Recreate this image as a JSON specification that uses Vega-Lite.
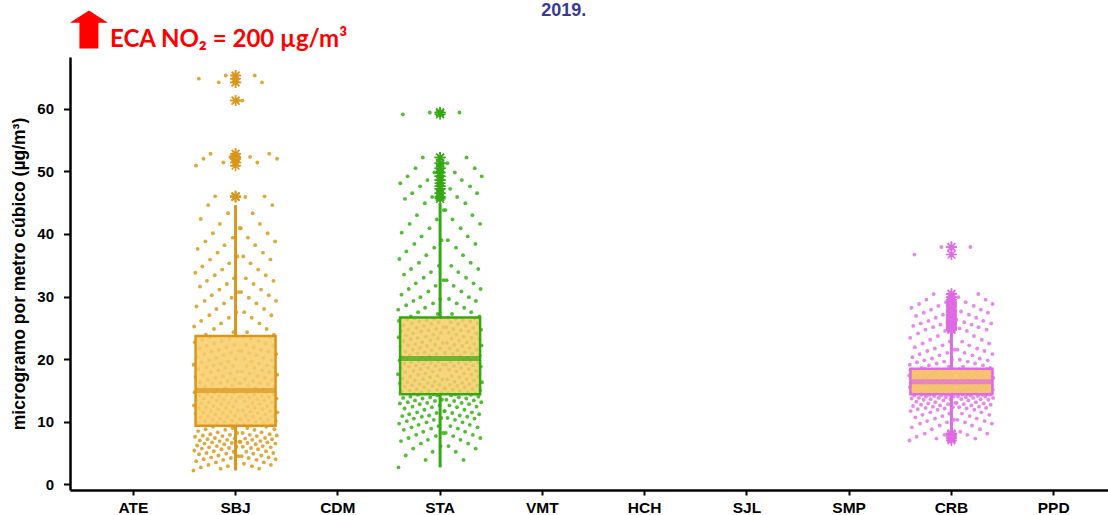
{
"$schema": "https://vega.github.io/schema/vega-lite/v6.json",
"width": 1038, "height": 433,
"autosize": {"type": "none"},
"padding": {"left": 70, "top": 57, "right": 0, "bottom": 25},
"background": "white",
"config": {"view": {"stroke": null}, "axis": {"grid": false}},
"data": {"values": [
{"d":1,"SBJ":2.2,"STA":17.6,"CRB":17.4},{"d":2,"SBJ":19.1,"STA":27.9,"CRB":7.0},{"d":3,"SBJ":12.6,"STA":2.7,"CRB":19.1},{"d":4,"SBJ":25.2,"STA":23.5,"CRB":15.5},{"d":5,"SBJ":5.4,"STA":26.1,"CRB":23.4},
{"d":6,"SBJ":14.7,"STA":9.7,"CRB":18.2},{"d":7,"SBJ":22.7,"STA":36.0,"CRB":11.7},{"d":8,"SBJ":7.6,"STA":19.8,"CRB":16.2},{"d":9,"SBJ":33.8,"STA":12.9,"CRB":17.0},{"d":10,"SBJ":17.2,"STA":16.1,"CRB":28.2},
{"d":11,"SBJ":11.3,"STA":48.1,"CRB":13.7},{"d":12,"SBJ":50.9,"STA":22.0,"CRB":9.1},{"d":13,"SBJ":3.7,"STA":18.5,"CRB":15.0},{"d":14,"SBJ":28.4,"STA":6.9,"CRB":20.3},{"d":15,"SBJ":13.5,"STA":24.5,"CRB":17.7},
{"d":16,"SBJ":20.4,"STA":30.3,"CRB":15.7},{"d":17,"SBJ":6.2,"STA":40.2,"CRB":12.5},{"d":18,"SBJ":15.3,"STA":14.8,"CRB":25.3},{"d":19,"SBJ":37.6,"STA":10.9,"CRB":16.5},{"d":20,"SBJ":9.9,"STA":20.3,"CRB":14.5},
{"d":21,"SBJ":8.5,"STA":16.9,"CRB":17.2},{"d":22,"SBJ":18.4,"STA":59.1,"CRB":14.2},{"d":23,"SBJ":12.1,"STA":13.8,"CRB":36.7},{"d":24,"SBJ":64.8,"STA":22.9,"CRB":15.3},{"d":25,"SBJ":4.8,"STA":25.4,"CRB":21.9},
{"d":26,"SBJ":14.2,"STA":8.7,"CRB":18.0},{"d":27,"SBJ":21.7,"STA":33.5,"CRB":10.7},{"d":28,"SBJ":7.0,"STA":19.3,"CRB":16.0},{"d":29,"SBJ":31.6,"STA":12.1,"CRB":16.8},{"d":30,"SBJ":16.3,"STA":15.6,"CRB":26.9},
{"d":31,"SBJ":10.7,"STA":45.6,"CRB":13.2},{"d":32,"SBJ":42.4,"STA":21.2,"CRB":7.6},{"d":33,"SBJ":2.7,"STA":17.9,"CRB":14.8},{"d":34,"SBJ":26.1,"STA":4.6,"CRB":19.5},{"d":35,"SBJ":12.9,"STA":23.8,"CRB":17.5},
{"d":36,"SBJ":19.5,"STA":28.6,"CRB":15.5},{"d":37,"SBJ":5.7,"STA":37.2,"CRB":12.0},{"d":38,"SBJ":23.1,"STA":20.0,"CRB":24.1},{"d":39,"SBJ":34.8,"STA":10.1,"CRB":18.3},{"d":40,"SBJ":14.9,"STA":26.3,"CRB":16.3},
{"d":41,"SBJ":7.8,"STA":16.3,"CRB":17.0},{"d":42,"SBJ":17.5,"STA":49.2,"CRB":13.8},{"d":43,"SBJ":11.5,"STA":13.1,"CRB":28.8},{"d":44,"SBJ":52.0,"STA":22.2,"CRB":15.1},{"d":45,"SBJ":4.0,"STA":24.7,"CRB":20.8},
{"d":46,"SBJ":13.7,"STA":7.4,"CRB":17.8},{"d":47,"SBJ":20.8,"STA":31.2,"CRB":9.7},{"d":48,"SBJ":6.5,"STA":18.8,"CRB":15.8},{"d":49,"SBJ":29.3,"STA":11.2,"CRB":16.6},{"d":50,"SBJ":15.6,"STA":15.0,"CRB":25.7},
{"d":51,"SBJ":10.1,"STA":41.6,"CRB":12.7},{"d":52,"SBJ":38.8,"STA":20.6,"CRB":14.3},{"d":53,"SBJ":8.8,"STA":17.2,"CRB":14.6},{"d":54,"SBJ":23.9,"STA":14.0,"CRB":18.6},{"d":55,"SBJ":12.3,"STA":23.2,"CRB":17.3},
{"d":56,"SBJ":18.7,"STA":26.8,"CRB":15.4},{"d":57,"SBJ":5.0,"STA":34.4,"CRB":11.1},{"d":58,"SBJ":22.1,"STA":19.5,"CRB":22.5},{"d":59,"SBJ":32.5,"STA":9.1,"CRB":18.1},{"d":60,"SBJ":14.4,"STA":25.7,"CRB":16.1},
{"d":61,"SBJ":7.2,"STA":15.8,"CRB":16.9},{"d":62,"SBJ":16.7,"STA":46.5,"CRB":13.5},{"d":63,"SBJ":10.9,"STA":12.4,"CRB":27.4},{"d":64,"SBJ":44.6,"STA":21.5,"CRB":14.9},{"d":65,"SBJ":3.1,"STA":24.1,"CRB":19.8},
{"d":66,"SBJ":13.1,"STA":5.7,"CRB":17.6},{"d":67,"SBJ":19.8,"STA":29.3,"CRB":8.1},{"d":68,"SBJ":5.9,"STA":18.1,"CRB":15.6},{"d":69,"SBJ":27.0,"STA":10.5,"CRB":18.4},{"d":70,"SBJ":23.5,"STA":14.5,"CRB":24.7},
{"d":71,"SBJ":9.5,"STA":38.4,"CRB":12.2},{"d":72,"SBJ":35.9,"STA":26.5,"CRB":14.0},{"d":73,"SBJ":8.0,"STA":16.6,"CRB":14.4},{"d":74,"SBJ":52.8,"STA":13.4,"CRB":29.5},{"d":75,"SBJ":11.7,"STA":22.4,"CRB":17.1},
{"d":76,"SBJ":17.9,"STA":50.5,"CRB":15.2},{"d":77,"SBJ":4.3,"STA":32.1,"CRB":10.1},{"d":78,"SBJ":21.2,"STA":19.0,"CRB":21.3},{"d":79,"SBJ":30.2,"STA":7.9,"CRB":17.9},{"d":80,"SBJ":13.9,"STA":25.0,"CRB":15.9},
{"d":81,"SBJ":6.7,"STA":15.2,"CRB":16.7},{"d":82,"SBJ":16.0,"STA":43.0,"CRB":12.9},{"d":83,"SBJ":10.3,"STA":11.5,"CRB":26.1},{"d":84,"SBJ":40.1,"STA":20.9,"CRB":14.7},{"d":85,"SBJ":9.2,"STA":23.4,"CRB":19.0},
{"d":86,"SBJ":12.5,"STA":14.3,"CRB":17.4},{"d":87,"SBJ":19.0,"STA":27.5,"CRB":14.3},{"d":88,"SBJ":5.3,"STA":17.5,"CRB":15.4},{"d":89,"SBJ":24.8,"STA":9.5,"CRB":18.2},{"d":90,"SBJ":22.5,"STA":19.7,"CRB":23.1},
{"d":91,"SBJ":14.6,"STA":35.4,"CRB":11.5},{"d":92,"SBJ":33.4,"STA":26.0,"CRB":13.6},{"d":93,"SBJ":7.4,"STA":16.0,"CRB":16.2},{"d":94,"SBJ":46.0,"STA":12.8,"CRB":27.9},{"d":95,"SBJ":11.2,"STA":21.8,"CRB":16.9},
{"d":96,"SBJ":17.0,"STA":47.6,"CRB":15.0},{"d":97,"SBJ":3.5,"STA":29.9,"CRB":8.8},{"d":98,"SBJ":20.2,"STA":18.4,"CRB":20.1},{"d":99,"SBJ":28.0,"STA":6.5,"CRB":17.7},{"d":100,"SBJ":13.4,"STA":24.4,"CRB":15.7},
{"d":101,"SBJ":6.1,"STA":14.7,"CRB":16.5},{"d":102,"SBJ":15.1,"STA":39.6,"CRB":12.4},{"d":103,"SBJ":9.8,"STA":10.8,"CRB":25.1},{"d":104,"SBJ":37.0,"STA":20.2,"CRB":14.5},{"d":105,"SBJ":8.3,"STA":22.7,"CRB":30.4},
{"d":106,"SBJ":12.0,"STA":13.7,"CRB":17.2},{"d":107,"SBJ":18.2,"STA":52.2,"CRB":14.1},{"d":108,"SBJ":4.6,"STA":16.8,"CRB":15.2},{"d":109,"SBJ":64.2,"STA":8.4,"CRB":18.0},{"d":110,"SBJ":21.5,"STA":19.2,"CRB":21.7},
{"d":111,"SBJ":14.1,"STA":33.0,"CRB":10.5},{"d":112,"SBJ":31.1,"STA":25.3,"CRB":13.1},{"d":113,"SBJ":6.9,"STA":15.5,"CRB":16.0},{"d":114,"SBJ":41.6,"STA":11.9,"CRB":26.6},{"d":115,"SBJ":10.5,"STA":21.1,"CRB":16.7},
{"d":116,"SBJ":16.2,"STA":44.9,"CRB":14.8},{"d":117,"SBJ":2.5,"STA":28.2,"CRB":7.3},{"d":118,"SBJ":19.3,"STA":17.7,"CRB":19.3},{"d":119,"SBJ":25.7,"STA":3.9,"CRB":17.5},{"d":120,"SBJ":12.8,"STA":23.6,"CRB":15.5},
{"d":121,"SBJ":5.6,"STA":19.9,"CRB":18.2},{"d":122,"SBJ":22.9,"STA":36.6,"CRB":11.9},{"d":123,"SBJ":14.8,"STA":9.9,"CRB":23.7},{"d":124,"SBJ":34.3,"STA":26.2,"CRB":16.3},{"d":125,"SBJ":7.7,"STA":22.1,"CRB":28.5},
{"d":126,"SBJ":11.4,"STA":13.0,"CRB":17.0},{"d":127,"SBJ":17.3,"STA":48.6,"CRB":13.8},{"d":128,"SBJ":3.9,"STA":16.2,"CRB":15.0},{"d":129,"SBJ":51.4,"STA":7.1,"CRB":17.8},{"d":130,"SBJ":20.6,"STA":18.6,"CRB":20.6},
{"d":131,"SBJ":13.6,"STA":30.8,"CRB":9.4},{"d":132,"SBJ":28.9,"STA":24.6,"CRB":12.6},{"d":133,"SBJ":6.4,"STA":14.9,"CRB":15.8},{"d":134,"SBJ":38.2,"STA":11.0,"CRB":25.5},{"d":135,"SBJ":10.0,"STA":20.5,"CRB":16.5},
{"d":136,"SBJ":15.4,"STA":40.9,"CRB":14.6},{"d":137,"SBJ":8.7,"STA":59.4,"CRB":14.2},{"d":138,"SBJ":18.6,"STA":17.1,"CRB":37.9},{"d":139,"SBJ":65.3,"STA":13.9,"CRB":17.3},{"d":140,"SBJ":12.2,"STA":23.0,"CRB":15.3},
{"d":141,"SBJ":4.9,"STA":19.4,"CRB":18.0},{"d":142,"SBJ":21.9,"STA":33.9,"CRB":10.9},{"d":143,"SBJ":14.3,"STA":8.9,"CRB":22.2},{"d":144,"SBJ":32.0,"STA":25.6,"CRB":16.1},{"d":145,"SBJ":7.1,"STA":21.4,"CRB":27.1},
{"d":146,"SBJ":10.8,"STA":12.3,"CRB":16.8},{"d":147,"SBJ":16.5,"STA":45.9,"CRB":13.4},{"d":148,"SBJ":2.9,"STA":15.7,"CRB":14.9},{"d":149,"SBJ":43.3,"STA":5.2,"CRB":17.6},{"d":150,"SBJ":19.6,"STA":18.0,"CRB":19.6},
{"d":151,"SBJ":13.0,"STA":28.9,"CRB":7.9},{"d":152,"SBJ":26.6,"STA":23.9,"CRB":12.1},{"d":153,"SBJ":5.8,"STA":14.4,"CRB":15.6},{"d":154,"SBJ":35.3,"STA":10.3,"CRB":24.5},{"d":155,"SBJ":9.4,"STA":26.4,"CRB":18.3},
{"d":156,"SBJ":23.3,"STA":37.8,"CRB":14.4},{"d":157,"SBJ":7.9,"STA":49.8,"CRB":13.9},{"d":158,"SBJ":17.7,"STA":16.4,"CRB":29.1},{"d":159,"SBJ":52.3,"STA":13.3,"CRB":17.1},{"d":160,"SBJ":11.6,"STA":22.3,"CRB":15.1},
{"d":161,"SBJ":4.2,"STA":18.9,"CRB":17.8},{"d":162,"SBJ":21.0,"STA":31.7,"CRB":9.9},{"d":163,"SBJ":13.8,"STA":7.7,"CRB":21.0},{"d":164,"SBJ":29.8,"STA":24.8,"CRB":15.9},{"d":165,"SBJ":6.6,"STA":20.8,"CRB":25.9},
{"d":166,"SBJ":10.2,"STA":11.4,"CRB":16.6},{"d":167,"SBJ":15.8,"STA":42.3,"CRB":12.8},{"d":168,"SBJ":9.0,"STA":15.1,"CRB":14.7},{"d":169,"SBJ":39.4,"STA":14.2,"CRB":17.4},{"d":170,"SBJ":18.9,"STA":17.3,"CRB":18.8},
{"d":171,"SBJ":12.4,"STA":27.2,"CRB":14.3},{"d":172,"SBJ":24.3,"STA":23.3,"CRB":11.3},{"d":173,"SBJ":5.2,"STA":19.6,"CRB":15.4},{"d":174,"SBJ":32.9,"STA":9.3,"CRB":22.8},{"d":175,"SBJ":14.5,"STA":25.9,"CRB":18.1},
{"d":176,"SBJ":22.3,"STA":34.9,"CRB":16.1},{"d":177,"SBJ":7.3,"STA":47.2,"CRB":13.6},{"d":178,"SBJ":16.8,"STA":15.9,"CRB":27.6},{"d":179,"SBJ":45.9,"STA":12.6,"CRB":16.9},{"d":180,"SBJ":11.0,"STA":21.7,"CRB":14.9},
{"d":181,"SBJ":3.3,"STA":18.3,"CRB":17.6},{"d":182,"SBJ":20.0,"STA":29.6,"CRB":8.4},{"d":183,"SBJ":13.3,"STA":6.1,"CRB":19.9},{"d":184,"SBJ":27.5,"STA":24.2,"CRB":15.7},{"d":185,"SBJ":6.0,"STA":26.6,"CRB":24.9},
{"d":186,"SBJ":9.6,"STA":10.6,"CRB":18.4},{"d":187,"SBJ":23.6,"STA":39.0,"CRB":12.3},{"d":188,"SBJ":8.2,"STA":14.6,"CRB":14.5},{"d":189,"SBJ":36.4,"STA":13.5,"CRB":17.2},{"d":190,"SBJ":18.0,"STA":16.7,"CRB":29.9},
{"d":191,"SBJ":11.8,"STA":51.3,"CRB":14.0},{"d":192,"SBJ":61.3,"STA":22.6,"CRB":10.3},{"d":193,"SBJ":4.5,"STA":19.1,"CRB":15.2},{"d":194,"SBJ":30.7,"STA":8.2,"CRB":21.5},{"d":195,"SBJ":14.0,"STA":25.1,"CRB":17.9},
{"d":196,"SBJ":21.3,"STA":32.6,"CRB":15.9},{"d":197,"SBJ":6.8,"STA":43.8,"CRB":13.0},{"d":198,"SBJ":16.1,"STA":15.3,"CRB":26.3},{"d":199,"SBJ":40.9,"STA":11.7,"CRB":16.7},{"d":200,"SBJ":10.4,"STA":21.0,"CRB":14.7},
{"d":201,"SBJ":16.1,"STA":11.7,"CRB":14.7},{"d":202,"SBJ":6.8,"STA":21.0,"CRB":26.3},{"d":203,"SBJ":40.9,"STA":15.3,"CRB":13.0},{"d":204,"SBJ":10.4,"STA":43.8,"CRB":16.7},{"d":205,"SBJ":30.7,"STA":8.2,"CRB":17.9},
{"d":206,"SBJ":21.3,"STA":19.1,"CRB":10.3},{"d":207,"SBJ":4.5,"STA":25.1,"CRB":21.5},{"d":208,"SBJ":14.0,"STA":13.5,"CRB":15.9},{"d":209,"SBJ":18.0,"STA":32.6,"CRB":14.0},{"d":210,"SBJ":61.3,"STA":22.6,"CRB":15.2},
{"d":211,"SBJ":8.2,"STA":16.7,"CRB":29.9},{"d":212,"SBJ":6.0,"STA":51.3,"CRB":17.2},{"d":213,"SBJ":11.8,"STA":10.6,"CRB":14.5},{"d":214,"SBJ":36.4,"STA":39.0,"CRB":12.3},{"d":215,"SBJ":23.6,"STA":14.6,"CRB":18.4},
{"d":216,"SBJ":9.6,"STA":26.6,"CRB":24.9},{"d":217,"SBJ":3.3,"STA":6.1,"CRB":19.9},{"d":218,"SBJ":27.5,"STA":24.2,"CRB":15.7},{"d":219,"SBJ":20.0,"STA":29.6,"CRB":8.4},{"d":220,"SBJ":13.3,"STA":18.3,"CRB":17.6},
{"d":221,"SBJ":16.8,"STA":12.6,"CRB":14.9},{"d":222,"SBJ":7.3,"STA":21.7,"CRB":27.6},{"d":223,"SBJ":45.9,"STA":15.9,"CRB":13.6},{"d":224,"SBJ":11.0,"STA":47.2,"CRB":16.9},{"d":225,"SBJ":32.9,"STA":9.3,"CRB":18.1},
{"d":226,"SBJ":22.3,"STA":19.6,"CRB":11.3},{"d":227,"SBJ":5.2,"STA":25.9,"CRB":22.8},{"d":228,"SBJ":14.5,"STA":14.2,"CRB":16.1},{"d":229,"SBJ":18.9,"STA":34.9,"CRB":14.3},{"d":230,"SBJ":24.3,"STA":23.3,"CRB":15.4},
{"d":231,"SBJ":9.0,"STA":17.3,"CRB":18.8},{"d":232,"SBJ":6.6,"STA":27.2,"CRB":17.4},{"d":233,"SBJ":12.4,"STA":11.4,"CRB":14.7},{"d":234,"SBJ":39.4,"STA":42.3,"CRB":12.8},{"d":235,"SBJ":15.8,"STA":15.1,"CRB":16.6},
{"d":236,"SBJ":10.2,"STA":20.8,"CRB":25.9},{"d":237,"SBJ":4.2,"STA":7.7,"CRB":21.0},{"d":238,"SBJ":29.8,"STA":24.8,"CRB":15.9},{"d":239,"SBJ":21.0,"STA":31.7,"CRB":9.9},{"d":240,"SBJ":13.8,"STA":18.9,"CRB":17.8},
{"d":241,"SBJ":17.7,"STA":13.3,"CRB":15.1},{"d":242,"SBJ":7.9,"STA":22.3,"CRB":29.1},{"d":243,"SBJ":52.3,"STA":16.4,"CRB":13.9},{"d":244,"SBJ":11.6,"STA":49.8,"CRB":17.1},{"d":245,"SBJ":35.3,"STA":10.3,"CRB":18.3},
{"d":246,"SBJ":23.3,"STA":14.4,"CRB":12.1},{"d":247,"SBJ":5.8,"STA":26.4,"CRB":24.5},{"d":248,"SBJ":9.4,"STA":5.2,"CRB":14.4},{"d":249,"SBJ":19.6,"STA":37.8,"CRB":7.9},{"d":250,"SBJ":26.6,"STA":23.9,"CRB":15.6},
{"d":251,"SBJ":2.9,"STA":18.0,"CRB":19.6},{"d":252,"SBJ":7.1,"STA":28.9,"CRB":17.6},{"d":253,"SBJ":13.0,"STA":12.3,"CRB":14.9},{"d":254,"SBJ":43.3,"STA":45.9,"CRB":13.4},{"d":255,"SBJ":16.5,"STA":15.7,"CRB":16.8},
{"d":256,"SBJ":10.8,"STA":21.4,"CRB":27.1},{"d":257,"SBJ":4.9,"STA":8.9,"CRB":22.2},{"d":258,"SBJ":32.0,"STA":25.6,"CRB":16.1},{"d":259,"SBJ":21.9,"STA":33.9,"CRB":10.9},{"d":260,"SBJ":14.3,"STA":19.4,"CRB":18.0},
{"d":261,"SBJ":18.6,"STA":13.9,"CRB":15.3},{"d":262,"SBJ":8.7,"STA":23.0,"CRB":37.9},{"d":263,"SBJ":65.3,"STA":17.1,"CRB":14.2},{"d":264,"SBJ":12.2,"STA":59.4,"CRB":17.3},{"d":265,"SBJ":38.2,"STA":11.0,"CRB":16.5},
{"d":266,"SBJ":15.4,"STA":14.9,"CRB":12.6},{"d":267,"SBJ":6.4,"STA":20.5,"CRB":25.5},{"d":268,"SBJ":10.0,"STA":7.1,"CRB":14.6},{"d":269,"SBJ":20.6,"STA":40.9,"CRB":9.4},{"d":270,"SBJ":28.9,"STA":24.6,"CRB":15.8},
{"d":271,"SBJ":3.9,"STA":18.6,"CRB":20.6},{"d":272,"SBJ":7.7,"STA":30.8,"CRB":17.8},{"d":273,"SBJ":13.6,"STA":13.0,"CRB":15.0},{"d":274,"SBJ":51.4,"STA":48.6,"CRB":13.8},{"d":275,"SBJ":17.3,"STA":16.2,"CRB":17.0},
{"d":276,"SBJ":11.4,"STA":22.1,"CRB":28.5},{"d":277,"SBJ":5.6,"STA":9.9,"CRB":23.7},{"d":278,"SBJ":34.3,"STA":26.2,"CRB":16.3},{"d":279,"SBJ":22.9,"STA":36.6,"CRB":11.9},{"d":280,"SBJ":14.8,"STA":19.9,"CRB":18.2},
{"d":281,"SBJ":19.3,"STA":3.9,"CRB":15.5},{"d":282,"SBJ":2.5,"STA":23.6,"CRB":19.3},{"d":283,"SBJ":25.7,"STA":17.7,"CRB":7.3},{"d":284,"SBJ":12.8,"STA":28.2,"CRB":17.5},{"d":285,"SBJ":41.6,"STA":11.9,"CRB":16.7},
{"d":286,"SBJ":16.2,"STA":15.5,"CRB":13.1},{"d":287,"SBJ":6.9,"STA":21.1,"CRB":26.6},{"d":288,"SBJ":10.5,"STA":8.4,"CRB":14.8},{"d":289,"SBJ":21.5,"STA":44.9,"CRB":10.5},{"d":290,"SBJ":31.1,"STA":25.3,"CRB":16.0},
{"d":291,"SBJ":4.6,"STA":19.2,"CRB":21.7},{"d":292,"SBJ":8.3,"STA":33.0,"CRB":18.0},{"d":293,"SBJ":14.1,"STA":13.7,"CRB":15.2},{"d":294,"SBJ":64.2,"STA":52.2,"CRB":14.1},{"d":295,"SBJ":18.2,"STA":16.8,"CRB":17.2},
{"d":296,"SBJ":12.0,"STA":22.7,"CRB":30.4},{"d":297,"SBJ":6.1,"STA":10.8,"CRB":25.1},{"d":298,"SBJ":37.0,"STA":20.2,"CRB":14.5},{"d":299,"SBJ":15.1,"STA":39.6,"CRB":12.4},{"d":300,"SBJ":9.8,"STA":14.7,"CRB":16.5},
{"d":301,"SBJ":20.2,"STA":6.5,"CRB":15.7},{"d":302,"SBJ":3.5,"STA":24.4,"CRB":20.1},{"d":303,"SBJ":28.0,"STA":18.4,"CRB":8.8},{"d":304,"SBJ":13.4,"STA":29.9,"CRB":17.7},{"d":305,"SBJ":46.0,"STA":12.8,"CRB":16.9},
{"d":306,"SBJ":17.0,"STA":16.0,"CRB":13.6},{"d":307,"SBJ":7.4,"STA":21.8,"CRB":27.9},{"d":308,"SBJ":11.2,"STA":9.5,"CRB":15.0},{"d":309,"SBJ":22.5,"STA":47.6,"CRB":11.5},{"d":310,"SBJ":33.4,"STA":26.0,"CRB":16.2},
{"d":311,"SBJ":5.3,"STA":19.7,"CRB":23.1},{"d":312,"SBJ":9.2,"STA":35.4,"CRB":18.2},{"d":313,"SBJ":14.6,"STA":14.3,"CRB":15.4},{"d":314,"SBJ":24.8,"STA":27.5,"CRB":14.3},{"d":315,"SBJ":19.0,"STA":17.5,"CRB":17.4},
{"d":316,"SBJ":12.5,"STA":23.4,"CRB":19.0},{"d":317,"SBJ":6.7,"STA":11.5,"CRB":26.1},{"d":318,"SBJ":40.1,"STA":20.9,"CRB":14.7},{"d":319,"SBJ":16.0,"STA":43.0,"CRB":12.9},{"d":320,"SBJ":10.3,"STA":15.2,"CRB":16.7},
{"d":321,"SBJ":21.2,"STA":7.9,"CRB":15.9},{"d":322,"SBJ":4.3,"STA":25.0,"CRB":21.3},{"d":323,"SBJ":30.2,"STA":19.0,"CRB":10.1},{"d":324,"SBJ":13.9,"STA":32.1,"CRB":17.9},{"d":325,"SBJ":52.8,"STA":13.4,"CRB":17.1},
{"d":326,"SBJ":17.9,"STA":16.6,"CRB":14.0},{"d":327,"SBJ":8.0,"STA":22.4,"CRB":29.5},{"d":328,"SBJ":11.7,"STA":10.5,"CRB":15.2},{"d":329,"SBJ":23.5,"STA":50.5,"CRB":12.2},{"d":330,"SBJ":35.9,"STA":26.5,"CRB":14.4},
{"d":331,"SBJ":5.9,"STA":14.5,"CRB":24.7},{"d":332,"SBJ":3.1,"STA":38.4,"CRB":18.4},{"d":333,"SBJ":9.5,"STA":5.7,"CRB":15.6},{"d":334,"SBJ":27.0,"STA":29.3,"CRB":8.1},{"d":335,"SBJ":19.8,"STA":18.1,"CRB":17.6},
{"d":336,"SBJ":13.1,"STA":24.1,"CRB":19.8},{"d":337,"SBJ":7.2,"STA":12.4,"CRB":27.4},{"d":338,"SBJ":44.6,"STA":21.5,"CRB":14.9},{"d":339,"SBJ":16.7,"STA":46.5,"CRB":13.5},{"d":340,"SBJ":10.9,"STA":15.8,"CRB":16.9},
{"d":341,"SBJ":22.1,"STA":9.1,"CRB":16.1},{"d":342,"SBJ":5.0,"STA":25.7,"CRB":22.5},{"d":343,"SBJ":32.5,"STA":19.5,"CRB":11.1},{"d":344,"SBJ":14.4,"STA":34.4,"CRB":18.1},{"d":345,"SBJ":23.9,"STA":14.0,"CRB":17.3},
{"d":346,"SBJ":18.7,"STA":17.2,"CRB":14.3},{"d":347,"SBJ":8.8,"STA":23.2,"CRB":18.6},{"d":348,"SBJ":12.3,"STA":11.2,"CRB":15.4},{"d":349,"SBJ":15.6,"STA":26.8,"CRB":12.7},{"d":350,"SBJ":38.8,"STA":20.6,"CRB":14.6},
{"d":351,"SBJ":6.5,"STA":15.0,"CRB":25.7},{"d":352,"SBJ":4.0,"STA":41.6,"CRB":16.6},{"d":353,"SBJ":10.1,"STA":7.4,"CRB":15.8},{"d":354,"SBJ":29.3,"STA":31.2,"CRB":9.7},{"d":355,"SBJ":20.8,"STA":18.8,"CRB":17.8},
{"d":356,"SBJ":13.7,"STA":24.7,"CRB":20.8},{"d":357,"SBJ":7.8,"STA":13.1,"CRB":28.8},{"d":358,"SBJ":52.0,"STA":22.2,"CRB":15.1},{"d":359,"SBJ":17.5,"STA":49.2,"CRB":13.8},{"d":360,"SBJ":11.5,"STA":16.3,"CRB":17.0}
]},
"encoding": {
  "x": {"field": "station", "type": "nominal", "title": null,
    "scale": {"domain": ["ATE","SBJ","CDM","STA","VMT","HCH","SJL","SMP","CRB","PPD"], "range": [0, 1047], "paddingInner": 0, "paddingOuter": 0.119},
    "axis": {"labelAngle": 0, "labelFont": "Liberation Sans", "labelFontSize": 15.5, "labelFontWeight": "bold", "labelColor": "black", "domainColor": "black", "domainWidth": 2.5, "tickColor": "black", "tickWidth": 2, "tickSize": 5, "labelPadding": 5}},
  "y": {"field": "value", "type": "quantitative", "title": "microgramo por metro cúbico (µg/m³)",
    "scale": {"domain": [-0.91, 68.26], "nice": false, "zero": false},
    "axis": {"values": [0,10,20,30,40,50,60], "labelFont": "Liberation Sans Narrow, Liberation Sans", "labelFontSize": 15, "labelFontWeight": "bold", "labelColor": "black", "domainColor": "black", "domainWidth": 2.5, "tickColor": "black", "tickWidth": 2, "tickSize": 6.5, "labelPadding": 10, "titleFont": "Liberation Sans", "titleFontSize": 17.5, "titleFontWeight": "bold", "titleColor": "black", "titlePadding": 8}}
},
"layer": [
  {"transform": [{"fold": ["SBJ","STA","CRB"], "as": ["station","value"]}],
   "mark": {"type": "circle", "size": 15, "opacity": 0.9},
   "encoding": {
     "xOffset": {"field": "d", "type": "quantitative", "scale": {"domain": [1, 360], "range": [9, 93]}},
     "color": {"field": "station", "type": "nominal", "legend": null, "scale": {"domain": ["SBJ","STA","CRB"], "range": ["#dc9e26","#3fb51f","#e47be9"]}}
   }},
  {"transform": [{"fold": ["SBJ","STA","CRB"], "as": ["station","value"]}, {"filter": "datum.station === 'SBJ'"}],
   "mark": {"type": "boxplot", "extent": 1.5, "size": 80, "ticks": false,
     "box": {"fill": "#f8cd68", "fillOpacity": 0.85, "stroke": "#d8961c", "strokeWidth": 2.5},
     "median": {"color": "#d8961c", "thickness": 5},
     "rule": {"color": "#d8961c", "strokeWidth": 3},
     "outliers": {"shape": "M-1,0L1,0M0,-1L0,1M-0.7,-0.7L0.7,0.7M-0.7,0.7L0.7,-0.7", "size": 121, "filled": false, "stroke": "#d8961c", "strokeWidth": 1.5, "opacity": 1}}},
  {"transform": [{"fold": ["SBJ","STA","CRB"], "as": ["station","value"]}, {"filter": "datum.station === 'STA'"}],
   "mark": {"type": "boxplot", "extent": 1.5, "size": 80, "ticks": false,
     "box": {"fill": "#f8cd68", "fillOpacity": 0.85, "stroke": "#35a814", "strokeWidth": 2.5},
     "median": {"color": "#35a814", "thickness": 5},
     "rule": {"color": "#35a814", "strokeWidth": 3},
     "outliers": {"shape": "M-1,0L1,0M0,-1L0,1M-0.7,-0.7L0.7,0.7M-0.7,0.7L0.7,-0.7", "size": 121, "filled": false, "stroke": "#35a814", "strokeWidth": 1.5, "opacity": 1}}},
  {"transform": [{"fold": ["SBJ","STA","CRB"], "as": ["station","value"]}, {"filter": "datum.station === 'CRB'"}],
   "mark": {"type": "boxplot", "extent": 1.5, "size": 82, "ticks": false,
     "box": {"fill": "#f7c862", "fillOpacity": 0.9, "stroke": "#df6ae3", "strokeWidth": 2.5},
     "median": {"color": "#df6ae3", "thickness": 5},
     "rule": {"color": "#df6ae3", "strokeWidth": 3},
     "outliers": {"shape": "M-1,0L1,0M0,-1L0,1M-0.7,-0.7L0.7,0.7M-0.7,0.7L0.7,-0.7", "size": 121, "filled": false, "stroke": "#df6ae3", "strokeWidth": 1.5, "opacity": 1}}},
  {"data": {"values": [{"station": "ATE", "value": 72.65}]},
   "mark": {"type": "point", "clip": false, "shape": "M0,-1L1,-0.35L0.5,-0.35L0.5,1L-0.5,1L-0.5,-0.35L-1,-0.35Z", "filled": true, "color": "#ff0000", "size": 1444, "opacity": 1},
   "encoding": {"x": {"field": "station", "type": "nominal", "bandPosition": 0.066, "title": null}, "y": {"field": "value", "type": "quantitative", "title": "microgramo por metro cúbico (µg/m³)"}}},
  {"data": {"values": [{"station": "ATE", "value": 69.86, "label": "ECA NO₂ = 200 µg/m³"}]},
   "mark": {"type": "text", "clip": false, "align": "left", "baseline": "alphabetic", "font": "Lato", "fontSize": 24, "fontWeight": "bold", "color": "#ff0000"},
   "encoding": {"x": {"field": "station", "type": "nominal", "bandPosition": 0.272, "title": null}, "y": {"field": "value", "type": "quantitative", "title": "microgramo por metro cúbico (µg/m³)"}, "text": {"field": "label"}}},
  {"data": {"values": [{"station": "VMT", "value": 74.8, "label": "2019."}]},
   "mark": {"type": "text", "clip": false, "align": "center", "baseline": "alphabetic", "font": "Liberation Sans", "fontSize": 18, "fontWeight": "bold", "color": "#38389a"},
   "encoding": {"x": {"field": "station", "type": "nominal", "bandPosition": 0.71, "title": null}, "y": {"field": "value", "type": "quantitative", "title": "microgramo por metro cúbico (µg/m³)"}, "text": {"field": "label"}}}
]
}
